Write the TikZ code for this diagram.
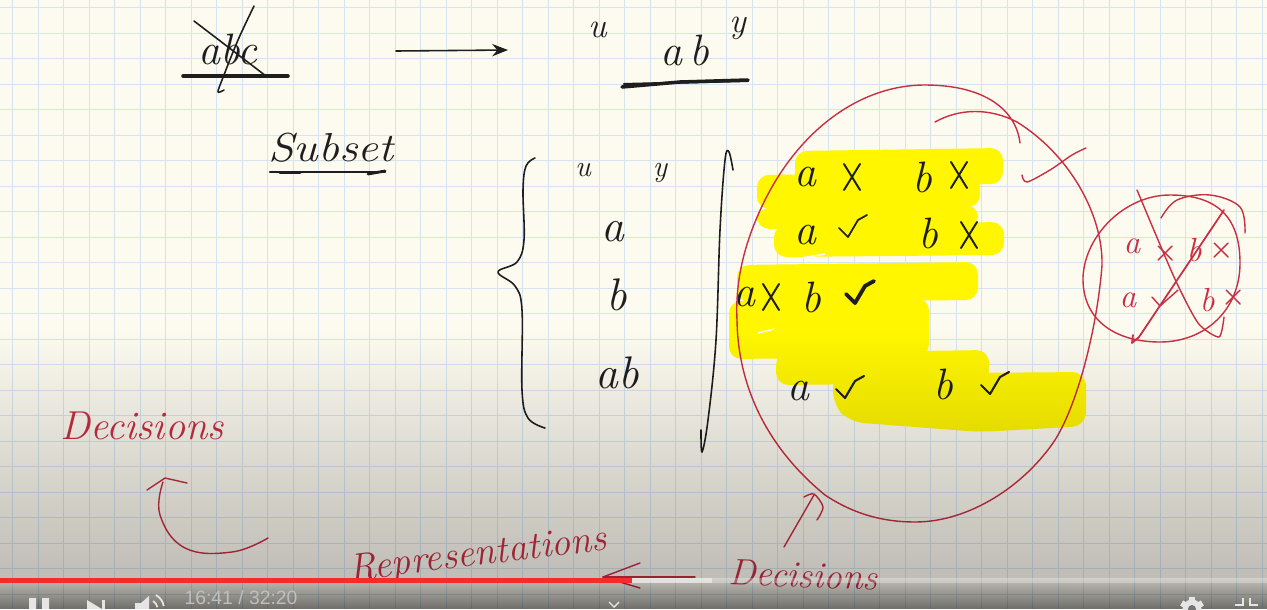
\documentclass[tikz,border=0pt]{standalone}
\usepackage{fontspec}
\newfontfamily\uifont{Liberation Sans}
\usetikzlibrary{arrows.meta}
\usetikzlibrary{fadings}
\definecolor{paper}{HTML}{FDFAF0}
\definecolor{gridblue}{HTML}{D6E4EF}
\definecolor{marker}{HTML}{FFF600}
\definecolor{redink}{HTML}{C92F42}
\definecolor{blackink}{HTML}{1E1E1E}
\definecolor{playred}{HTML}{F62B2B}
\tikzfading[name=dimfade, top color=transparent!100, bottom color=transparent!0]
\tikzset{
    blackpen/.style={draw=blackink, line width=0.9pt, line cap=round, line join=round},
    heavypen/.style={blackpen, line width=2pt},
    redpen/.style={draw=redink, line width=0.8pt, line cap=round, line join=round},
    hand/.style={inner sep=0pt, text=blackink, font=\fontsize{#1}{#1}\selectfont\itshape},
    redhand/.style={inner sep=0pt, text=redink, font=\fontsize{#1}{#1}\selectfont\itshape},
}
\begin{document}
\begin{tikzpicture}[x=0.02cm,y=-0.02cm]
        \clip (0,0) rectangle (1267,609);
        \fill[paper] (0,0) rectangle (1267,609);

        % squared paper
        \foreach \x in {0,...,49}
            \draw[gridblue, line width=0.5pt] (12.5+25.5*\x,0) -- (12.5+25.5*\x,609);
        \foreach \y in {0,...,23}
            \draw[gridblue, line width=0.5pt] (0,7.5+25.5*\y) -- (1267,7.5+25.5*\y);

        % marker
        \foreach \xa/\ya/\xb/\yb in {795/148/1003/185, 757/172/980/208, 757/205/978/228, 774/222/1004/256,
            737/262/978/301, 729/298/929/358, 776/350/989/384}
            \fill[marker, rounded corners=7pt] (\xa,\ya+3) -- (\xb,\ya) -- (\xb,\yb-1) -- (\xa,\yb+1) -- cycle;
        \fill[marker, rounded corners=8pt] (833,374) -- (1086,372) -- (1086,426) -- (980,432) -- (850,422) -- (833,405) -- cycle;
        \draw[paper, line width=0.9pt] (796,259) -- (825,254);
        \draw[paper, line width=0.9pt] (758,333) -- (774,329);

        % top line
        \node[hand=25] (abc) at (228,49) {abc};
        \draw[heavypen] (183,76) -- (288,76);
        \draw[blackpen] (194,21) -- (266,76);
        \draw[blackpen] plot[smooth] coordinates {(254,6) (238,40) (222,80) (218,92) (224,90)};
        \node[hand=25] (ab) at (685,50) {a\,b};
        \node[hand=20] (uleft) at (598,30) {u};
        \node[hand=20] (yright) at (738,28) {y};
        \coordinate (arrowfrom) at (396,51);
        \coordinate (arrowto) at (508,50);
        \draw[blackpen, -{Stealth[length=9pt,width=7pt]}] (arrowfrom) -- (arrowto);
        \draw[heavypen] (622,87) -- (680,82) -- (748,80);
        \draw[blackpen, line width=1.2pt] (624,84) -- (748,81);

        \node[hand=23, xscale=1.15] (subsetlabel) at (331,148) {Subset};
        \draw[blackpen, line width=1.2pt] (270,172) -- (385,172);
        \draw[blackpen, line width=1.6pt] (280,173) -- (300,173);
        \draw[blackpen, line width=1.6pt] (368,174) -- (385,171);

        % set of subsets
        \draw[blackpen] plot[smooth, tension=.6] coordinates {(535,158) (526,166) (523,190) (524,240) (517,262) (498,272)
            (515,286) (522,310) (522,390) (528,418) (545,428)};
        \draw[blackpen] plot[smooth, tension=.6] coordinates {(733,170) (729,152) (725,160) (720,230) (716,340) (708,420) (702,452) (701,430)};
        \node[hand=17] (uset) at (583,170) {u};
        \node[hand=17] (yset) at (660,173) {y};
        \node[hand=26] (aset) at (613,232) {a};
        \node[hand=26] (bset) at (617,295) {b};
        \node[hand=26] (abset) at (617,373) {ab};

        % decisions
        \node[hand=25] (aone) at (805,177) {a};
        \node[hand=25] (bone) at (922,177) {b};
        \node[hand=25] (atwo) at (805,235) {a};
        \node[hand=25] (btwo) at (928,233) {b};
        \node[hand=25] (athree) at (744,297) {a};
        \node[hand=25] (bthree) at (811,297) {b};
        \node[hand=25] (afour) at (798,391) {a};
        \node[hand=25] (bfour) at (943,384) {b};
        \foreach \x/\y in {852/177, 959/175, 969/235, 771/297}
            \draw[blackpen, line width=1.1pt] (\x-8,\y-13) -- (\x+8,\y+13) (\x+8,\y-13) -- (\x-8,\y+13);
        \foreach \x/\y/\w in {853/226/1, 860/292/2.2, 850/387/1.2, 995/383/1.2}
            \draw[blackpen, line width=\w pt] (\x-14,\y+2) -- (\x-5,\y+11) -- (\x+5,\y-6) -- (\x+14,\y-11);

        % red rings
        \draw[redpen] (1020,143) .. controls (1016,110) and (985,85) .. (925,85)
            .. controls (860,85) and (800,130) .. (765,200)
            .. controls (745,240) and (735,280) .. (737,320)
            .. controls (738,390) and (770,450) .. (825,495)
            .. controls (855,515) and (885,522) .. (915,522)
            .. controls (970,522) and (1025,485) .. (1055,440)
            .. controls (1080,400) and (1098,320) .. (1102,265)
            .. controls (1103,215) and (1070,155) .. (1017,122)
            .. controls (990,108) and (960,108) .. (935,122);
        \draw[redpen] plot[smooth, tension=.5] coordinates {(1022,175) (1027,182) (1050,170) (1072,155) (1086,148)};
        \draw[redpen] (1083,277) .. controls (1085,235) and (1125,195) .. (1170,195)
            .. controls (1215,195) and (1240,215) .. (1240,263)
            .. controls (1240,310) and (1205,342) .. (1160,342)
            .. controls (1115,342) and (1082,320) .. (1083,277);
        \draw[redpen] plot[smooth, tension=.6] coordinates {(1161,218) (1177,200) (1210,195) (1240,207) (1245,233)};
        \draw[redpen] plot[smooth, tension=.4] coordinates {(1137,190) (1174,277) (1198,323) (1219,337) (1224,317)};
        \draw[redpen, line width=1pt] (1224,210) -- (1139,337) -- (1132,343) -- (1133,335);
        \node[redhand=19] (aoff) at (1132,246) {a};
        \node[redhand=19] (boff) at (1194,250) {b};
        \node[redhand=19] (aon) at (1128,300) {a};
        \node[redhand=19] (bon) at (1207,300) {b};
        \foreach \x/\y in {1165/253, 1221/250, 1233/297}
            \draw[redpen] (\x-7,\y-7) -- (\x+7,\y+7) (\x+7,\y-7) -- (\x-7,\y+7);
        \draw[redpen] (1152,297) -- (1160,306) -- (1178,290);

        % red notes
        \node[redhand=23] (decleft) at (142,426) {Decisions};
        \draw[redpen] plot[smooth, tension=.7] coordinates {(268,538) (232,552) (185,548) (160,515) (163,482)};
        \draw[redpen] (147,490) -- (165,478) -- (187,483);
        \node[redhand=22, rotate=7] (represent) at (478,556) {Representations};
        \node[redhand=21, rotate=-2] (decright) at (803,575) {Decisions};
        \coordinate (leftto) at (603,577);
        \coordinate (leftfrom) at (695,577);
        \draw[redpen] (leftfrom) -- (leftto);
        \draw[redpen] (640,563) -- (leftto) -- (640,588);
        \coordinate (upfrom) at (784,547);
        \coordinate (upto) at (814,495);
        \draw[redpen] (upfrom) -- (upto);
        \draw[redpen] plot[smooth, tension=.5] coordinates {(804,497) (814,494) (823,507) (817,520)};

        % player
        \fill[black, opacity=.24, path fading=dimfade] (0,330) rectangle (1267,570);
        \fill[black, opacity=.24] (0,570) rectangle (1267,609);
        \fill[black, opacity=.42, path fading=dimfade] (0,578) rectangle (1267,609);
        \fill[white, opacity=.28] (0,577.5) rectangle (1267,582.5);
        \fill[white, opacity=.45] (632,577.5) rectangle (712,582.5);
        \fill[playred] (0,577.5) rectangle (632,582.5);

        \fill[white!90!black] (29,598) rectangle (36,609) (42,598) rectangle (49,609);
        \fill[white!90!black] (87,600) -- (102,609) -- (87,609) -- cycle;
        \fill[white!90!black] (102,600) rectangle (105,609);
        \fill[white!90!black] (135,603) -- (141,603) -- (149,596) -- (149,609) -- (135,609) -- cycle;
        \draw[white!90!black, line width=1pt] (153,601) arc (-60:-10:9);
        \draw[white!90!black, line width=1pt] (156,595) arc (-60:-10:16);
        \node[inner sep=0pt, text=white!75!black, font=\uifont\fontsize{11}{11}\selectfont] (timer) at (241,597.5) {16:41 / 32:20};
        \draw[white!90!black, line width=.8pt] (609,602) -- (614,607) -- (619,602);
        \fill[white!90!black] (1192,609) circle (9.5);
        \foreach \a in {0,60,...,300}
            \fill[white!90!black, rotate around={\a:(1192,609)}] (1189,597) rectangle (1195,604);
        \fill[black!55] (1192,609) circle (4);
        \draw[white!90!black, line width=1.4pt] (1235,605) -- (1243,605) -- (1243,598);
        \draw[white!90!black, line width=1.4pt] (1250,598) -- (1250,605) -- (1258,605);
\end{tikzpicture}
\end{document}
